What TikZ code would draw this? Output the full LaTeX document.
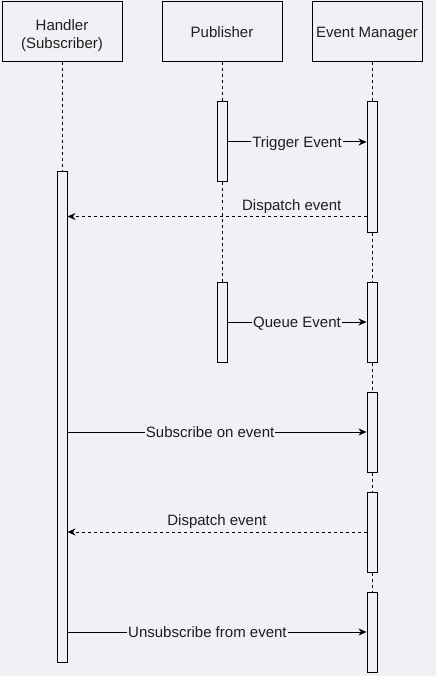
\documentclass[tikz,border=0pt]{standalone}
\usepackage{fontspec}
\setmainfont{Liberation Sans}
\definecolor{canvasgray}{RGB}{240,241,245}
\definecolor{inkgray}{RGB}{30,30,30}
\usetikzlibrary{arrows.meta,positioning}

\begin{document}
\begin{tikzpicture}[x=1pt,y=-1pt,line width=1pt,
    txt/.style={font=\fontsize{15}{20}\selectfont,text=inkgray},
    lbl/.style={txt,text height=11pt,text depth=0.3pt},
    actor/.style={draw,fill=canvasgray,align=center,minimum width=120pt,minimum height=60pt,inner sep=0pt},
    act/.style={draw,fill=canvasgray,minimum width=10pt,inner sep=0pt},
    lifeline/.style={dash pattern=on 3pt off 3pt},
    msg/.style={-{Stealth[length=8pt,width=7pt]}},
    reply/.style={msg,dash pattern=on 3pt off 3pt}]
    % Canvas
    \fill[canvasgray] (0,0) rectangle (436,676);
    \useasboundingbox (0,0) rectangle (436,676);

    % Participants
    \node[actor,txt] (handler) at (62,32) {\raisebox{0pt}[33pt][0.2pt]{\shortstack{Handler\\[4pt](Subscriber)}}};
    \node[actor,lbl] (publisher) at (222,32) {Publisher};
    \node[actor,lbl,minimum width=110pt] (manager) at (367,32) {Event Manager};

    % Activations
    \node[act,minimum height=490pt] (hact) at (62,417) {};
    \node[act,minimum height=80pt] (pact1) at (222,142) {};
    \node[act,minimum height=80pt] (pact2) at (222,322) {};
    \node[act,minimum height=130pt] (mact1) at (372,167) {};
    \node[act,minimum height=80pt] (mact2) at (372,322) {};
    \node[act,minimum height=80pt] (mact3) at (372,432) {};
    \node[act,minimum height=80pt] (mact4) at (372,532) {};
    \node[act,minimum height=80pt] (mact5) at (372,632) {};

    % Lifelines
    \draw[lifeline] (handler.south) -- (hact.north);
    \draw[lifeline] (publisher.south) -- (pact1.north);
    \draw[lifeline] (pact1.south) -- (pact2.north);
    \draw[lifeline] (mact1.north |- manager.south) -- (mact1.north);
    \draw[lifeline] (mact1.south) -- (mact2.north);
    \draw[lifeline] (mact2.south) -- (mact3.north);
    \draw[lifeline] (mact3.south) -- (mact4.north);
    \draw[lifeline] (mact4.south) -- (mact5.north);

    % Messages
    \coordinate (disp1) at ([yshift=16pt]mact1.south west);
    \draw[msg] (pact1.east) -- (pact1.east -| mact1.west)
        node[midway,lbl,fill=canvasgray,inner sep=1pt] (trig) {Trigger Event};
    \draw[reply] (disp1) -- (disp1 -| hact.east)
        node[pos=0.25,lbl,above=2pt] (dlbl1) {Dispatch event};
    \draw[msg] (pact2.east) -- (pact2.east -| mact2.west)
        node[midway,lbl,fill=canvasgray,inner sep=1pt] (queue) {Queue Event};
    \draw[msg] (hact.east |- mact3.west) -- (mact3.west)
        node[pos=0.477,lbl,fill=canvasgray,inner sep=1pt] (sub) {Subscribe on event};
    \draw[reply] (mact4.west) -- (mact4.west -| hact.east)
        node[midway,lbl,above=2pt] (dlbl2) {Dispatch event};
    \draw[msg] (hact.east |- mact5.west) -- (mact5.west)
        node[pos=0.468,lbl,fill=canvasgray,inner sep=1pt] (unsub) {Unsubscribe from event};
\end{tikzpicture}
\end{document}
